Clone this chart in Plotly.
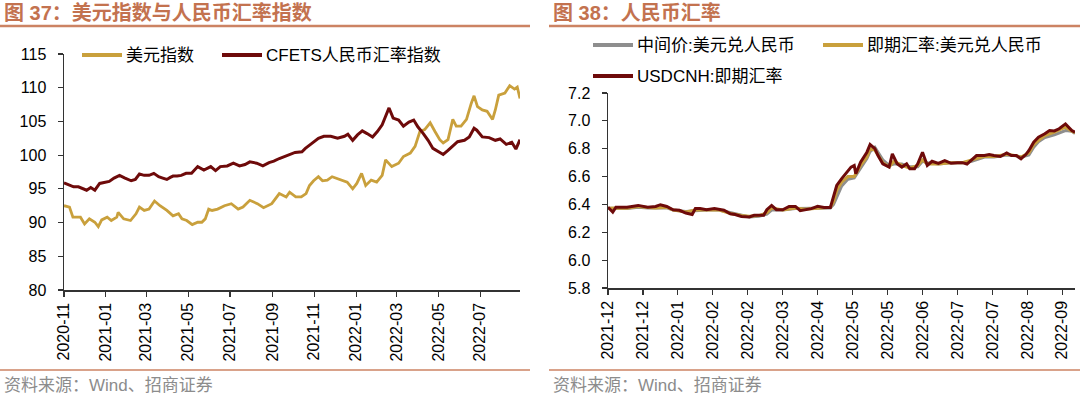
import plotly.graph_objects as go

W, H = 1080, 397

# ---------------- Left chart data: 美元指数 / CFETS人民币汇率指数 ----------------
dxy_dates = [
    "2020-11-01", "2020-11-09", "2020-11-14", "2020-11-25", "2020-12-01", "2020-12-08",
    "2020-12-16", "2020-12-21", "2020-12-26", "2021-01-03", "2021-01-09", "2021-01-17",
    "2021-01-19", "2021-01-27", "2021-02-06", "2021-02-14", "2021-02-19", "2021-02-26",
    "2021-03-05", "2021-03-13", "2021-03-21", "2021-03-31", "2021-04-09", "2021-04-17",
    "2021-04-22", "2021-04-29", "2021-05-07", "2021-05-15", "2021-05-21", "2021-05-26",
    "2021-05-31", "2021-06-05", "2021-06-13", "2021-06-23", "2021-07-03", "2021-07-13",
    "2021-07-20", "2021-07-30", "2021-08-10", "2021-08-19", "2021-08-31", "2021-09-11",
    "2021-09-21", "2021-09-26", "2021-10-05", "2021-10-13", "2021-10-20", "2021-10-25",
    "2021-10-31", "2021-11-07", "2021-11-13", "2021-11-20", "2021-11-27", "2021-12-05",
    "2021-12-12", "2021-12-19", "2021-12-27", "2022-01-02", "2022-01-09", "2022-01-15",
    "2022-01-23", "2022-01-31", "2022-02-08", "2022-02-13", "2022-02-22", "2022-03-04",
    "2022-03-11", "2022-03-21", "2022-03-28", "2022-04-04", "2022-04-11", "2022-04-19",
    "2022-04-26", "2022-05-03", "2022-05-08", "2022-05-15", "2022-05-22", "2022-05-27",
    "2022-06-03", "2022-06-11", "2022-06-18", "2022-06-22", "2022-06-27", "2022-07-04",
    "2022-07-11", "2022-07-19", "2022-07-23", "2022-07-28", "2022-08-06", "2022-08-13",
    "2022-08-20", "2022-08-24", "2022-08-28",
]
dxy_values = [
    92.5, 92.3, 90.8, 90.8, 89.8, 90.55,
    90.05, 89.4, 90.4, 90.8, 90.3, 90.8,
    91.5, 90.55, 90.3, 91.3, 92.3, 91.8,
    92.0, 93.2, 92.5, 91.8, 91.0, 91.3,
    90.55, 90.3, 89.7, 90.05, 90.05, 90.55,
    92.0, 91.8, 92.0, 92.5, 92.8, 92.0,
    92.3, 93.3, 92.8, 92.2, 92.8, 94.3,
    93.8, 94.5, 93.8, 93.8, 94.3, 95.5,
    96.2, 96.8, 96.2, 96.3, 96.8, 96.5,
    96.3, 96.0, 95.0, 95.8, 97.3, 95.5,
    96.3, 96.0, 97.0, 99.3, 98.3, 98.8,
    99.8, 100.3, 101.3, 103.5, 103.8, 104.8,
    103.5, 102.3, 101.8, 102.3, 105.3, 104.3,
    104.3, 105.3, 107.7, 108.8, 107.2, 106.7,
    106.5, 105.3, 106.7, 108.9, 109.2, 110.3,
    109.8, 110.1, 108.4,
]

cfets_dates = [
    "2020-11-01", "2020-11-08", "2020-11-15", "2020-11-22", "2020-11-28", "2020-12-04",
    "2020-12-10", "2020-12-16", "2020-12-23", "2020-12-30", "2021-01-06", "2021-01-13",
    "2021-01-21", "2021-01-29", "2021-02-07", "2021-02-13", "2021-02-19", "2021-02-26",
    "2021-03-05", "2021-03-12", "2021-03-19", "2021-03-25", "2021-03-31", "2021-04-05",
    "2021-04-09", "2021-04-15", "2021-04-21", "2021-04-28", "2021-05-06", "2021-05-15",
    "2021-05-20", "2021-05-24", "2021-06-03", "2021-06-10", "2021-06-17", "2021-06-27",
    "2021-07-06", "2021-07-15", "2021-07-23", "2021-07-30", "2021-08-09", "2021-08-18",
    "2021-08-27", "2021-09-03", "2021-09-11", "2021-09-18", "2021-09-25", "2021-10-04",
    "2021-10-14", "2021-10-19", "2021-10-28", "2021-11-07", "2021-11-15", "2021-11-25",
    "2021-12-05", "2021-12-15", "2021-12-20", "2021-12-27", "2022-01-03", "2022-01-10",
    "2022-01-17", "2022-01-25", "2022-02-01", "2022-02-08", "2022-02-12", "2022-02-18",
    "2022-02-24", "2022-03-04", "2022-03-11", "2022-03-19", "2022-03-26", "2022-04-01",
    "2022-04-09", "2022-04-16", "2022-04-23", "2022-05-01", "2022-05-08", "2022-05-15",
    "2022-05-22", "2022-05-29", "2022-06-08", "2022-06-15", "2022-06-22", "2022-06-26",
    "2022-07-04", "2022-07-14", "2022-07-23", "2022-07-30", "2022-08-08", "2022-08-16",
    "2022-08-22", "2022-08-28",
]
cfets_values = [
    95.9, 95.6, 95.3, 95.3, 95.0, 94.8,
    95.2, 94.8, 95.8, 96.0, 96.1, 96.6,
    97.0, 96.6, 96.2, 96.4, 97.2, 97.0,
    97.0, 97.3, 96.8, 96.6, 96.4, 96.7,
    96.9, 96.9, 97.0, 97.3, 97.3, 98.3,
    98.0, 97.8, 98.3, 97.7, 98.3, 98.4,
    98.8, 98.4, 98.6, 99.0, 98.8, 98.4,
    98.9, 99.1, 99.5, 99.8, 100.0, 100.4,
    100.5, 101.0, 101.7, 102.5, 102.8, 102.8,
    102.5, 102.8, 103.1, 102.2, 103.0, 103.6,
    103.2, 102.7, 103.5, 104.5, 105.5, 107.0,
    105.5, 105.2, 104.3, 104.9, 105.2, 104.2,
    103.2, 102.2, 101.0, 100.5, 100.1, 100.7,
    101.3, 102.0, 102.2, 102.7, 104.0, 103.7,
    102.7, 102.6, 102.2, 102.4, 101.6, 101.9,
    100.9, 102.3,
]

# ---------------- Right chart data: 人民币汇率 ----------------
cnh_dates = [
    "2021-12-01", "2021-12-04", "2021-12-06", "2021-12-13", "2021-12-20", "2021-12-26",
    "2021-12-31", "2022-01-03", "2022-01-07", "2022-01-11", "2022-01-15", "2022-01-19",
    "2022-01-23", "2022-01-25", "2022-01-28", "2022-02-01", "2022-02-06", "2022-02-09",
    "2022-02-12", "2022-02-16", "2022-02-19", "2022-02-23", "2022-02-28", "2022-03-03",
    "2022-03-06", "2022-03-09", "2022-03-11", "2022-03-14", "2022-03-17", "2022-03-21",
    "2022-03-25", "2022-03-29", "2022-04-01", "2022-04-04", "2022-04-08", "2022-04-12",
    "2022-04-16", "2022-04-20", "2022-04-22", "2022-04-24", "2022-04-27", "2022-05-01",
    "2022-05-03", "2022-05-05", "2022-05-06", "2022-05-09", "2022-05-11", "2022-05-13",
    "2022-05-15", "2022-05-18", "2022-05-20", "2022-05-23", "2022-05-27", "2022-05-29",
    "2022-06-01", "2022-06-04", "2022-06-07", "2022-06-09", "2022-06-12", "2022-06-14",
    "2022-06-17", "2022-06-20", "2022-06-23", "2022-06-27", "2022-07-01", "2022-07-05",
    "2022-07-09", "2022-07-12", "2022-07-15", "2022-07-18", "2022-07-21", "2022-07-26",
    "2022-07-29", "2022-08-01", "2022-08-05", "2022-08-09", "2022-08-12", "2022-08-15",
    "2022-08-18", "2022-08-21", "2022-08-23", "2022-08-26", "2022-08-29", "2022-09-02",
    "2022-09-05", "2022-09-08", "2022-09-11", "2022-09-15", "2022-09-17", "2022-09-19",
    "2022-09-21",
]
cnh_values = [
    6.380, 6.345, 6.380, 6.380, 6.393, 6.380,
    6.385, 6.398, 6.385, 6.362, 6.358, 6.338,
    6.328, 6.370, 6.370, 6.362, 6.370, 6.362,
    6.358, 6.333, 6.328, 6.314, 6.310, 6.322,
    6.322, 6.322, 6.362, 6.393, 6.362, 6.362,
    6.386, 6.386, 6.355, 6.362, 6.370, 6.386,
    6.378, 6.378, 6.452, 6.536, 6.584, 6.644,
    6.668, 6.680, 6.620, 6.703, 6.740, 6.775,
    6.830, 6.800, 6.751, 6.692, 6.668, 6.763,
    6.692, 6.668, 6.692, 6.656, 6.656, 6.692,
    6.775, 6.680, 6.710, 6.695, 6.715, 6.695,
    6.700, 6.700, 6.690, 6.720, 6.751, 6.751,
    6.758, 6.751, 6.744, 6.770, 6.751, 6.751,
    6.728, 6.758, 6.787, 6.847, 6.882, 6.907,
    6.930, 6.928, 6.943, 6.978, 6.954, 6.930,
    6.918,
]

cny_dates = [
    "2021-12-01", "2021-12-06", "2021-12-13", "2021-12-20", "2021-12-26", "2021-12-31",
    "2022-01-07", "2022-01-11", "2022-01-19", "2022-01-25", "2022-02-01", "2022-02-09",
    "2022-02-16", "2022-02-23", "2022-02-28", "2022-03-06", "2022-03-11", "2022-03-14",
    "2022-03-21", "2022-03-29", "2022-04-04", "2022-04-12", "2022-04-20", "2022-04-22",
    "2022-04-24", "2022-04-27", "2022-05-01", "2022-05-05", "2022-05-09", "2022-05-13",
    "2022-05-15", "2022-05-18", "2022-05-23", "2022-05-27", "2022-05-30", "2022-06-04",
    "2022-06-09", "2022-06-14", "2022-06-17", "2022-06-20", "2022-06-27", "2022-07-05",
    "2022-07-12", "2022-07-18", "2022-07-26", "2022-08-01", "2022-08-09", "2022-08-15",
    "2022-08-18", "2022-08-23", "2022-08-26", "2022-08-29", "2022-09-02", "2022-09-08",
    "2022-09-15", "2022-09-19", "2022-09-21",
]
cny_spot_values = [
    6.372, 6.375, 6.372, 6.385, 6.378, 6.375,
    6.380, 6.360, 6.345, 6.360, 6.362, 6.360,
    6.335, 6.320, 6.315, 6.320, 6.340, 6.375,
    6.360, 6.375, 6.365, 6.375, 6.380, 6.420,
    6.500, 6.560, 6.600, 6.600, 6.680, 6.740,
    6.800, 6.790, 6.700, 6.670, 6.710, 6.680,
    6.660, 6.680, 6.720, 6.690, 6.690, 6.700,
    6.700, 6.720, 6.745, 6.745, 6.760, 6.750,
    6.740, 6.770, 6.830, 6.860, 6.895, 6.920,
    6.955, 6.925, 6.915,
]
cny_mid_values = [
    6.373, 6.370, 6.370, 6.380, 6.375, 6.377,
    6.375, 6.360, 6.350, 6.355, 6.360, 6.360,
    6.340, 6.320, 6.310, 6.315, 6.330, 6.360,
    6.360, 6.370, 6.370, 6.370, 6.375, 6.400,
    6.450, 6.530, 6.580, 6.590, 6.660, 6.730,
    6.780, 6.810, 6.720, 6.680, 6.690, 6.690,
    6.670, 6.670, 6.710, 6.700, 6.690, 6.700,
    6.700, 6.710, 6.740, 6.740, 6.755, 6.750,
    6.740, 6.755, 6.810, 6.850, 6.880, 6.900,
    6.930, 6.925, 6.910,
]

left_yticks = [80, 85, 90, 95, 100, 105, 110, 115]
right_yticks = [5.8, 6.0, 6.2, 6.4, 6.6, 6.8, 7.0, 7.2]

# ---------------- styles ----------------
GOLD = "#C9A03C"
DARKRED = "#6E0A0A"
GRAY = "#8E8E8E"
TITLE_C = "#C3724F"
RULE_C = "#CC8363"
LAT = "Liberation Sans, Arial, sans-serif"
CJK = "Liberation Sans, Noto Sans CJK SC, sans-serif"


def px(x):
    return x / W


def py(y):
    return 1 - y / H


fig = go.Figure()

fig.add_trace(go.Scatter(x=dxy_dates, y=dxy_values, mode="lines", name="美元指数",
                         line=dict(color=GOLD, width=2.8), xaxis="x", yaxis="y"))
fig.add_trace(go.Scatter(x=cfets_dates, y=cfets_values, mode="lines", name="CFETS人民币汇率指数",
                         line=dict(color=DARKRED, width=3), xaxis="x", yaxis="y"))

fig.add_trace(go.Scatter(x=cny_dates, y=cny_mid_values, mode="lines", name="中间价:美元兑人民币",
                         line=dict(color=GRAY, width=3), xaxis="x2", yaxis="y2"))
fig.add_trace(go.Scatter(x=cny_dates, y=cny_spot_values, mode="lines", name="即期汇率:美元兑人民币",
                         line=dict(color=GOLD, width=3), xaxis="x2", yaxis="y2"))
fig.add_trace(go.Scatter(x=cnh_dates, y=cnh_values, mode="lines", name="USDCNH:即期汇率",
                         line=dict(color=DARKRED, width=3), xaxis="x2", yaxis="y2"))

axis_common = dict(showline=True, linecolor="#333333", linewidth=1.5, showgrid=False,
                   zeroline=False, ticks="outside", ticklen=5, tickcolor="#333333",
                   tickwidth=1.2, automargin=False,
                   tickfont=dict(family=LAT, size=16, color="#000000"))

fig.update_layout(
    template="none",
    width=W, height=H, margin=dict(l=0, r=0, t=0, b=0, pad=0, autoexpand=False),
    paper_bgcolor="white", plot_bgcolor="white", showlegend=False,
    xaxis=dict(domain=[px(64), px(520)], anchor="y", type="date",
               range=["2020-11-01", "2022-08-28"], tick0="2020-11-01", dtick="M2",
               tickformat="%Y-%m", tickangle=-90, **axis_common),
    yaxis=dict(domain=[py(290), py(54)], anchor="x", range=[80, 115],
               tickvals=left_yticks, ticklabelstandoff=8, **axis_common),
    xaxis2=dict(domain=[px(608), px(1075)], anchor="y2", type="date",
                range=["2021-12-01", "2022-09-21"], tick0="2021-12-01", dtick=22 * 86400000,
                tickformat="%Y-%m", tickangle=-90, **axis_common),
    yaxis2=dict(domain=[py(288), py(93)], anchor="x2", range=[5.8, 7.2],
                tickvals=right_yticks, tickformat=".1f", ticklabelstandoff=8, **axis_common),
)

shapes = []
annotations = []

# titles and rules
for x0, x1, title in [(0, 530, "图 37：美元指数与人民币汇率指数"), (549, 1080, "图 38：人民币汇率")]:
    annotations.append(dict(xref="paper", yref="paper", x=px(x0 + 2), y=py(13), xanchor="left",
                            yanchor="middle", text="<b>" + title + "</b>", showarrow=False,
                            font=dict(family=CJK, size=20, color=TITLE_C)))
    shapes.append(dict(type="line", xref="paper", yref="paper", x0=px(x0), x1=px(x1),
                       y0=py(26), y1=py(26), line=dict(color=RULE_C, width=2.5)))
    shapes.append(dict(type="line", xref="paper", yref="paper", x0=px(x0), x1=px(x1),
                       y0=py(370), y1=py(370), line=dict(color=RULE_C, width=1.5)))
    annotations.append(dict(xref="paper", yref="paper", x=px(x0 + 2), y=py(385), xanchor="left",
                            yanchor="middle", text="资料来源：Wind、招商证券", showarrow=False,
                            font=dict(family=CJK, size=17, color="#8C8C8C")))

# legends
legend_items = [
    (82, 55, GOLD, "美元指数"),
    (222, 55, DARKRED, "CFETS人民币汇率指数"),
    (593, 45, GRAY, "中间价:美元兑人民币"),
    (823, 45, GOLD, "即期汇率:美元兑人民币"),
    (593, 76, DARKRED, "USDCNH:即期汇率"),
]
for lx, ly, col, label in legend_items:
    shapes.append(dict(type="line", xref="paper", yref="paper", x0=px(lx), x1=px(lx + 40),
                       y0=py(ly), y1=py(ly), line=dict(color=col, width=4)))
    annotations.append(dict(xref="paper", yref="paper", x=px(lx + 42), y=py(ly), xanchor="left",
                            yanchor="middle", text=label, showarrow=False,
                            font=dict(family=CJK, size=17, color="#000000")))

fig.update_layout(shapes=shapes, annotations=annotations)

fig.write_html(
    "out.html",
    include_plotlyjs=True,
    config={"displayModeBar": False, "staticPlot": True},
    post_script="document.body.style.margin='0px'; document.body.style.overflow='hidden';",
)
